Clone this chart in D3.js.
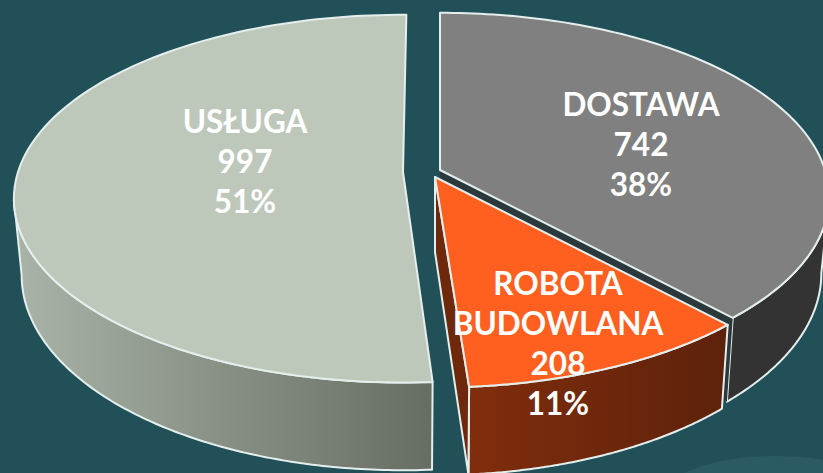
<!DOCTYPE html>
<html><head><meta charset="utf-8">
<script src="https://cdnjs.cloudflare.com/ajax/libs/d3/7.8.5/d3.min.js"></script>
<style>html,body{margin:0;padding:0;background:#225058;overflow:hidden}svg{display:block}</style>
</head><body><svg id="c" width="823" height="473"></svg>
<script>
const categories = ["DOSTAWA", "ROBOTA BUDOWLANA", "USŁUGA"];
const labelLines = [["DOSTAWA"], ["ROBOTA", "BUDOWLANA"], ["USŁUGA"]];
const values = [742, 208, 997];
const percents = ["38%", "11%", "51%"];
const topColors = ["#808080", "#ff5f1f", "#bdc8bb"];
const wallStart = ["#333333", "#802d0c", "#a8b2a6"];
const wallEnd = ["#333333", "#5e220b", "#676d62"];
const apexX = [440, 435, 403], apexY = [170, 177, 172];
const angleNudge = [0, 0, 0.01];
const labelX = [641, 558, 245], labelY = [116, 295, 133];

const W = 823, H = 473, RX = 385, RY = 180, K = 0.145, DEPTH = 75, BOTTOM_SCALE = 0.98, LINE = 40;
const svg = d3.select("#c");
svg.append("rect").attr("width", W).attr("height", H).attr("fill", "#225058");
svg.append("ellipse").attr("cx", 775).attr("cy", 500).attr("rx", 115).attr("ry", 44).attr("fill", "#2a5a62");

const defs = svg.append("defs");
const pie = d3.pie().sort(null).value(d => d);
const arcs = pie(values);
const rx = d3.scaleLinear().domain([0, 1]).range([0, RX]);
const ry = d3.scaleLinear().domain([0, 1]).range([0, RY]);

function project(i, r, a, low) {
  const w = 1 + K * r * Math.cos(a);
  const s = low ? BOTTOM_SCALE : 1;
  return [apexX[i] + s * rx(r) * Math.sin(a) / w,
          apexY[i] - ry(r) * Math.cos(a) / w + (low ? DEPTH / w : 0)];
}
const line = d3.line();
const rim = (i, a0, a1, low) => d3.range(0, 121).map(t => project(i, 1, a0 + (a1 - a0) * t / 120, low));

// silhouette angles where the rim is widest on each side
const extremeRight = Math.acos(-K), extremeLeft = 2 * Math.PI - Math.acos(-K);

const slices = arcs.map((d, i) => ({
  i,
  a0: d.startAngle + angleNudge[i],
  a1: d.endAngle + angleNudge[i]
}));
// visible outer wall range of each slice
const wallRange = s => [Math.max(s.a0, s.i === 0 ? extremeRight : s.a0), Math.min(s.a1, s.i === 2 ? extremeLeft : s.a1)];

slices.forEach(s => {
  const [w0, w1] = wallRange(s);
  const g = defs.append("linearGradient").attr("id", "wall" + s.i).attr("gradientUnits", "userSpaceOnUse").attr("y1", 0).attr("y2", 0);
  const xa = project(s.i, 1, w0, true)[0], xb = project(s.i, 1, w1, true)[0];
  g.attr("x1", Math.min(xa, xb)).attr("x2", Math.max(xa, xb));
  g.append("stop").attr("offset", "0%").attr("stop-color", wallStart[s.i]);
  g.append("stop").attr("offset", "100%").attr("stop-color", wallEnd[s.i]);
});

const stroke = "#e4efed", sw = 2;
function drawSlice(s) {
  const { i, a0, a1 } = s;
  const g = svg.append("g").attr("class", "slice").attr("stroke", stroke).attr("stroke-width", sw).attr("stroke-linejoin", "round");
  const [w0, w1] = wallRange(s);
  const outer = rim(i, w0, w1, false).concat(rim(i, w1, w0, true));
  g.append("path").attr("d", line(outer) + "Z").attr("fill", `url(#wall${i})`);
  const cut = [project(i, 0, a1, false), project(i, 1, a1, false), project(i, 1, a1, true), project(i, 0, a1, true)];
  if (i === 0) g.append("path").attr("d", line(cut) + "Z").attr("fill", "#2b393d").attr("stroke", "none");
  if (i === 1) g.append("path").attr("d", line(cut) + "Z").attr("fill", "#6e280c");
  const top = [project(i, 0, 0, false)].concat(rim(i, a0, a1, false));
  g.append("path").attr("d", line(top) + "Z").attr("fill", topColors[i]);
}
[0, 2, 1].forEach(k => drawSlice(slices[k]));

const tg = svg.append("g").attr("fill", "#fff").attr("font-family", "Lato, 'Open Sans', sans-serif").attr("font-weight", 700).attr("font-size", 31.5).attr("text-anchor", "middle");
categories.forEach((c, i) => {
  const lines = labelLines[i].concat([String(values[i]), percents[i]]);
  lines.forEach((t, j) => tg.append("text").attr("x", labelX[i]).attr("y", labelY[i] + j * LINE).text(t));
});
</script></body></html>
